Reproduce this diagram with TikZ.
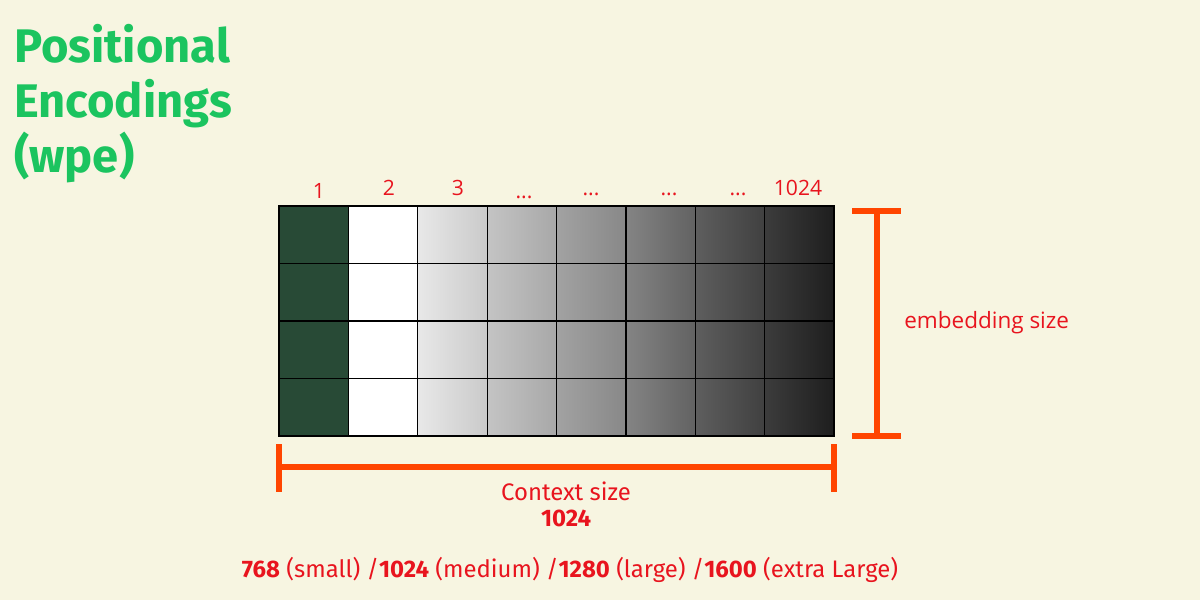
\documentclass[tikz,border=0pt]{standalone}
\usepackage{fontspec}
\setmainfont{Open Sans}
\newfontfamily\dinfont{Fira Sans}
\definecolor{bg}{HTML}{F7F5E1}
\definecolor{titlegreen}{HTML}{1BC45F}
\definecolor{lblred}{HTML}{E8141E}
\definecolor{brk}{HTML}{FF4500}
\definecolor{cellgreen}{HTML}{284A36}
\tikzset{
  titletext/.style={anchor=base west, text=titlegreen, font=\dinfont\bfseries\fontsize{33.5}{40}\selectfont, inner sep=0pt},
  collabel/.style={anchor=base, text=lblred, font=\fontsize{15}{18}\selectfont, inner sep=0pt},
  bracket/.style={draw=brk, line width=3.6pt},
  redtext/.style={text=lblred, inner sep=0pt},
}
\begin{document}
\begin{tikzpicture}[x=0.025cm,y=-0.025cm]
\fill[bg] (0,0) rectangle (1200,600);
\useasboundingbox (0,0) rectangle (1200,600);
% title
\node[titletext] (t1) at (14,62) {Positional};
\node[titletext] (t2) at (14,117) {Encodings};
\node[titletext] (t3) at (14,172) {(wpe)};
% columns
\fill[cellgreen] (279,206) rectangle (348.4,436);
\fill[white] (348.4,206) rectangle (417.8,436);
\foreach \i/\l/\r in {2/E8E8E8/CACACA,3/C4C4C4/A8A8A8,4/A2A2A2/888888,5/848484/626262,6/5E5E5E/404040,7/3C3C3C/1E1E1E}{
  \definecolor{cl}{HTML}{\l}\definecolor{cr}{HTML}{\r}
  \shade[left color=cl, right color=cr] ({279+\i*69.375},206) rectangle ({279+(\i+1)*69.375},436);
}
\foreach \i in {1,...,7}{\draw[line width=0.9pt] ({279+\i*69.375},206) -- ({279+\i*69.375},436);}
\foreach \y in {263.5,321,378.5}{\draw[line width=0.9pt] (279,\y) -- (834,\y);}
\node[draw, line width=1.1pt, inner sep=0pt, minimum width=555*0.025cm, minimum height=230*0.025cm] (grid) at (556.5,321) {};
% column labels
\node[collabel] (c1) at (319,198) {1};
\node[collabel] (c2) at (389,195) {2};
\node[collabel] (c3) at (458,195) {3};
\node[collabel] (c4) at (524,198) {...};
\node[collabel] (c5) at (591,195) {...};
\node[collabel] (c6) at (669,195) {...};
\node[collabel] (c7) at (738,195) {...};
\node[collabel] (c8) at (798,195) {1024};
% context bracket
\coordinate (hl) at (279,467);
\coordinate (hr) at (834,467);
\draw[bracket] (hl) -- (hr);
\draw[bracket] ([yshift=23*0.025cm]hl) -- ([yshift=-25*0.025cm]hl);
\draw[bracket] ([yshift=23*0.025cm]hr) -- ([yshift=-25*0.025cm]hr);
% embedding bracket
\coordinate (vt) at (877,211);
\coordinate (vb) at (877,436);
\draw[bracket] (vt) -- (vb);
\draw[bracket] ([xshift=-25*0.025cm]vt) -- ([xshift=24*0.025cm]vt);
\draw[bracket] ([xshift=-25*0.025cm]vb) -- ([xshift=24*0.025cm]vb);
% labels
\node[redtext, anchor=base west, font=\fontsize{16}{19}\selectfont] (emb) at (904,328) {embedding size};
\node[redtext, anchor=base, font=\dinfont\fontsize{17}{20}\selectfont] (ctx) at (566,500) {Context size};
\node[redtext, anchor=base, font=\dinfont\bfseries\fontsize{17}{20}\selectfont] (ctxn) at (566,526) {1024};
\node[redtext, anchor=base, font=\dinfont\fontsize{17}{20}\selectfont] (sizes) at (570,577) {\textbf{768} (small) /\textbf{1024} (medium) /\textbf{1280} (large) /\textbf{1600} (extra Large)};
\end{tikzpicture}
\end{document}
